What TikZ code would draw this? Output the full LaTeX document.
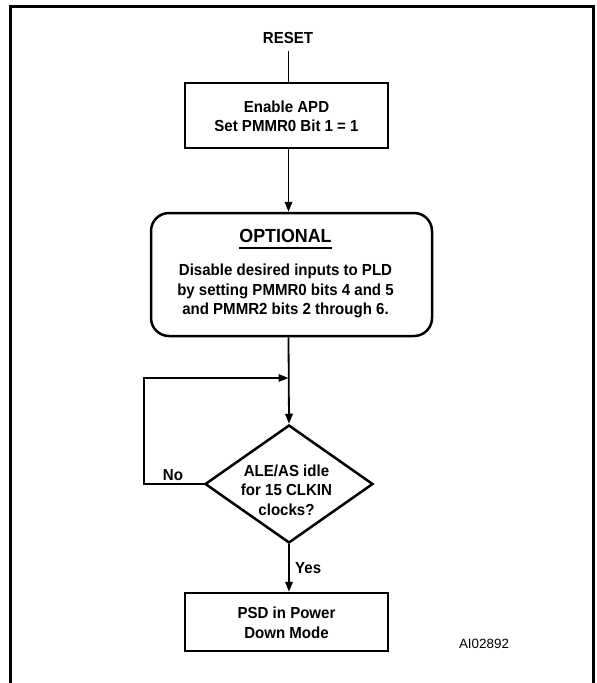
\documentclass[tikz,border=0pt]{standalone}
\usepackage{fontspec}
\setmainfont{Liberation Sans}[FakeStretch=0.94]
\newfontfamily\plainfont{Liberation Sans}
\usetikzlibrary{arrows.meta,shapes.geometric,calc}
\begin{document}
\begin{tikzpicture}[x=1pt,y=-1pt,
  txt/.style={font=\fontsize{16}{19.5}\selectfont\bfseries, align=center, inner sep=0pt},
  boxnode/.style={draw, line width=2.5pt, minimum width=203pt, inner sep=0pt},
  conn/.style={line width=1.8pt},
  arr/.style={conn, -{Triangle[length=10pt,width=7.5pt]}},
  frame/.style={line width=3pt}]
\useasboundingbox (0,0) rectangle (597,683);
\draw[frame] (10,684) -- (10,6) -- (593,6) -- (593,684);
\coordinate (ax) at (288.5,0);
% RESET
\node[txt] (reset) at (288,38) {RESET};
\coordinate (rs) at (288.5,51);
% Enable APD
\node[boxnode, minimum height=65pt] (apd) at (286.5,115.5) {};
\node[txt] (apdt) at (286.5,116.5) {Enable APD\\Set PMMR0 Bit 1 = 1};
% OPTIONAL
\node[draw, line width=2.5pt, rounded corners=18pt, minimum width=281pt, minimum height=123pt, inner sep=0pt] (opt) at (291.5,274.5) {};
\node[font=\fontsize{19}{20}\selectfont\bfseries, inner sep=0pt, anchor=base] (optt) at (285.5,242) {OPTIONAL};
\draw[line width=2pt] ($(optt.base west)+(0,5.5)$) -- ($(optt.base east)+(0,5.5)$);
\node[txt] (optx) at (285.5,291) {Disable desired inputs to PLD\\by setting PMMR0 bits 4 and 5\\and PMMR2 bits 2 through 6.};
% Decision
\node[draw, diamond, line width=2.5pt, minimum width=168pt, minimum height=118pt, inner sep=0pt] (dec) at (289,484) {};
\node[txt] (dect) at (286.5,490) {ALE/AS idle\\for 15 CLKIN\\clocks?};
% Power down
\node[boxnode, minimum height=58pt] (pd) at (286.5,622) {};
\node[txt] (pdt) at (286.5,623) {PSD in Power\\Down Mode};
% labels
\node[txt, anchor=base] (no) at (173,480) {No};
\node[txt, anchor=base west] (yes) at (295,573) {Yes};
\node[font=\fontsize{13.4}{15}\selectfont\plainfont, inner sep=0pt, anchor=base] (ai) at (484,648) {AI02892};
% connectors
\draw[conn] (rs) -- (rs |- apd.north);
\draw[arr] (apd.south -| ax) -- (ax |- opt.north);
\draw[arr] (opt.south -| ax) -- (dec.north);
\coordinate (lp) at (144,378);
\coordinate (mid) at (288.5,378);
\draw[arr] (dec.west) -| (lp) -- (mid);
\draw[arr] (dec.south) -- (dec.south |- pd.north);
\end{tikzpicture}
\end{document}
